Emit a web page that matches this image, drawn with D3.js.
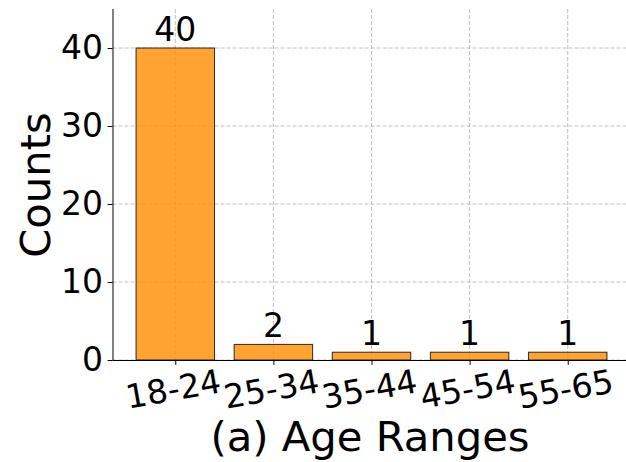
<!DOCTYPE html>
<html>
<head>
<meta charset="utf-8">
<script src="https://cdn.jsdelivr.net/npm/d3@7"></script>
<style>
body { margin: 0; background: #fff; }
text { font-family: "DejaVu Sans", sans-serif; fill: #000; }
</style>
</head>
<body>
<div id="vis_container"></div>
<script>
var categories = ["18-24", "25-34", "35-44", "45-54", "55-65"];
var counts = [40, 2, 1, 1, 1];
var yTicks = [0, 10, 20, 30, 40];

var chart = {};
chart.width = 626;
chart.height = 462;
chart.margin = {top: 9, left: 112.5, right: -4.5, bottom: 102};

chart.svg = d3.select("#vis_container").append("svg")
	.attr("width", chart.width)
	.attr("height", chart.height);

var plotW = chart.width - chart.margin.left - chart.margin.right;
var plotH = chart.height - chart.margin.top - chart.margin.bottom;

// band positions like matplotlib: centers at 0..4, width 0.8, margins 0.05
chart.xScale = d3.scaleLinear()
	.domain([-0.64, categories.length - 1 + 0.64])
	.range([0, plotW]);
chart.yScale = d3.scaleLinear()
	.domain([0, 45])
	.range([plotH, 0]);

var g = chart.svg.append("g")
	.attr("transform", "translate(" + chart.margin.left + "," + chart.margin.top + ")");

// grid
g.append("g").selectAll("line.hgrid")
	.data(yTicks)
	.enter().append("line")
	.attr("x1", 0).attr("x2", plotW)
	.attr("y1", function(d) { return chart.yScale(d); })
	.attr("y2", function(d) { return chart.yScale(d); })
	.attr("stroke", "#b0b0b0").attr("stroke-width", 0.8)
	.attr("stroke-dasharray", "4,2");
g.append("g").selectAll("line.vgrid")
	.data(categories)
	.enter().append("line")
	.attr("x1", function(d, i) { return chart.xScale(i); })
	.attr("x2", function(d, i) { return chart.xScale(i); })
	.attr("y1", 0).attr("y2", plotH)
	.attr("stroke", "#b0b0b0").attr("stroke-width", 0.8)
	.attr("stroke-dasharray", "4,2");

// bars
g.selectAll("rect.bar")
	.data(counts)
	.enter().append("rect")
	.attr("class", "bar")
	.attr("x", function(d, i) { return chart.xScale(i - 0.4); })
	.attr("width", chart.xScale(0.8) - chart.xScale(0))
	.attr("y", function(d) { return chart.yScale(d); })
	.attr("height", function(d) { return chart.yScale(0) - chart.yScale(d); })
	.attr("fill", "#ff8c00")
	.attr("fill-opacity", 0.8)
	.attr("stroke", "#000")
	.attr("stroke-opacity", 0.8)
	.attr("stroke-width", 1);

// value labels
g.selectAll("text.val")
	.data(counts)
	.enter().append("text")
	.attr("x", function(d, i) { return chart.xScale(i); })
	.attr("y", function(d) { return chart.yScale(d) - 7; })
	.attr("text-anchor", "middle")
	.style("font-size", "33px")
	.text(function(d) { return d; });

// axes
var yAxis = g.append("g")
	.call(d3.axisLeft(chart.yScale).tickValues(yTicks).tickSize(4.9).tickPadding(4.5));
var xAxis = g.append("g")
	.attr("transform", "translate(0," + plotH + ")")
	.call(d3.axisBottom(chart.xScale).tickValues(d3.range(categories.length)).tickSize(4.9).tickFormat(""));

[yAxis, xAxis].forEach(function(a) {
	a.select(".domain").attr("stroke", "#000").attr("stroke-width", 1);
	a.selectAll(".tick line").attr("stroke", "#000").attr("stroke-width", 1);
});
yAxis.select(".domain").attr("d", "M0.5," + plotH + "V0");
xAxis.select(".domain").attr("d", "M0,0.5H" + plotW);
yAxis.selectAll(".tick text")
	.style("font-size", "33px")
	.style("font-family", "DejaVu Sans, sans-serif");

// rotated x tick labels
g.selectAll("text.xlab")
	.data(categories)
	.enter().append("text")
	.attr("transform", function(d, i) {
		return "translate(" + (chart.xScale(i) - 2) + "," + (plotH + 29) + ") rotate(-10)";
	})
	.attr("text-anchor", "middle")
	.attr("dy", "0.35em")
	.style("font-size", "33px")
	.text(function(d) { return d; });

// axis titles
chart.svg.append("text")
	.attr("x", 370)
	.attr("y", 451)
	.attr("text-anchor", "middle")
	.style("font-size", "41.7px")
	.text("(a) Age Ranges");

chart.svg.append("text")
	.attr("transform", "translate(50,185) rotate(-90)")
	.attr("text-anchor", "middle")
	.style("font-size", "41.7px")
	.text("Counts");
</script>
</body>
</html>
